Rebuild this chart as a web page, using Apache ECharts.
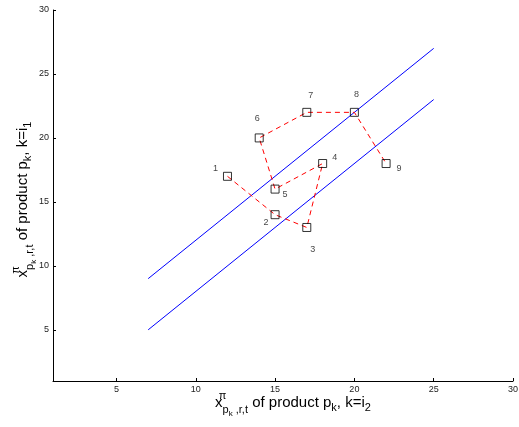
<!DOCTYPE html>
<html>
<head>
<meta charset="utf-8">
<script src="https://cdn.jsdelivr.net/npm/echarts@6/dist/echarts.min.js"></script>
<style>html,body{margin:0;padding:0;background:#fff;}#c{width:519px;height:427px;}</style>
</head>
<body>
<div id="c"></div>
<script>
// ---- data ----
var pointX = [12, 15, 17, 18, 15, 14, 17, 20, 22];
var pointY = [17, 14, 13, 18, 16, 20, 22, 22, 18];
var pointLabels = ['1', '2', '3', '4', '5', '6', '7', '8', '9'];
var upperLineX = [7, 25];
var upperLineY = [9, 27];
var lowerLineX = [7, 25];
var lowerLineY = [5, 23];
var xTicks = [5, 10, 15, 20, 25, 30];
var yTicks = [5, 10, 15, 20, 25, 30];
var axisMin = 1, axisMax = 30;

function zip(a, b) { return a.map(function (v, i) { return [v, b[i]]; }); }

// label placement (styling)
var labelOffsets = [[-12, -8], [-9, 8], [6, 22], [12, -6], [10, 5], [-2, -19], [4, -17], [2, -18], [13, 5]];

var FONT = '"Liberation Sans", Arial, Helvetica, sans-serif';
var rich = {
  b: { fontSize: 15, fontFamily: FONT, color: '#000' },
  sup: { fontSize: 11, fontFamily: FONT, color: '#000', padding: [0, 0, 14, 0], width: 0 },
  sub: { fontSize: 11, fontFamily: FONT, color: '#000', padding: [14, 0, 0, 0] },
  subsub: { fontSize: 8, fontFamily: FONT, color: '#000', padding: [23, 0, 0, 0] },
  s: { fontSize: 11, fontFamily: FONT, color: '#000', padding: [11, 0, 0, 0] }
};
function axisName(idx) {
  return '{b|x}{sup|π}{sub|p}{subsub|k}{sub| ,r,t}{b| of product p}{s|k}{b|, k=i}{s|' + idx + '}';
}

var chart = echarts.init(document.getElementById('c'), null, { renderer: 'canvas' });
var axisCommon = {
  type: 'value',
  min: axisMin,
  max: axisMax,
  nameLocation: 'middle',
  nameMoveOverlap: false,
  axisLine: { show: true, onZero: false, lineStyle: { color: '#000', width: 1 } },
  axisTick: { show: true, inside: true, length: 3, customValues: xTicks, lineStyle: { color: '#000' } },
  axisLabel: { customValues: xTicks, fontSize: 9, fontFamily: FONT, color: '#222', margin: 4 },
  splitLine: { show: false }
};
var option = {
  animation: false,
  backgroundColor: '#fff',
  grid: { left: 53, right: 6, top: 10, bottom: 46, containLabel: false, outerBoundsMode: 'none' },
  xAxis: Object.assign({}, axisCommon, {
    name: axisName('2'),
    nameGap: 6,
    nameTextStyle: { rich: rich, padding: [0, 0, 0, 20] }
  }),
  yAxis: Object.assign({}, axisCommon, {
    axisTick: { show: true, inside: true, length: 3, customValues: yTicks, lineStyle: { color: '#000' } },
    axisLabel: { customValues: yTicks, fontSize: 9, fontFamily: FONT, color: '#222', margin: 4 },
    name: axisName('1'),
    nameGap: 15,
    nameRotate: 90,
    nameTextStyle: { rich: rich, padding: [0, 8, 0, 0] }
  }),
  series: [
    {
      type: 'line', data: zip(upperLineX, upperLineY), symbol: 'none',
      lineStyle: { color: '#0000ff', width: 1 }, silent: true
    },
    {
      type: 'line', data: zip(lowerLineX, lowerLineY), symbol: 'none',
      lineStyle: { color: '#0000ff', width: 1 }, silent: true
    },
    {
      type: 'line', data: zip(pointX, pointY), symbol: 'none',
      lineStyle: { color: '#ff0000', width: 1, type: [5, 4] }, z: 3
    },
    {
      type: 'scatter',
      data: pointX.map(function (x, i) {
        return {
          value: [x, pointY[i]],
          label: { offset: labelOffsets[i] }
        };
      }),
      symbol: 'rect', symbolSize: 8,
      itemStyle: { color: 'rgba(0,0,0,0)', borderColor: '#000', borderWidth: 1 },
      label: {
        show: true, position: 'inside',
        formatter: function (p) { return pointLabels[p.dataIndex]; },
        fontSize: 9, fontFamily: FONT, color: '#111'
      },
      z: 4
    }
  ]
};
chart.setOption(option);
</script>
</body>
</html>
